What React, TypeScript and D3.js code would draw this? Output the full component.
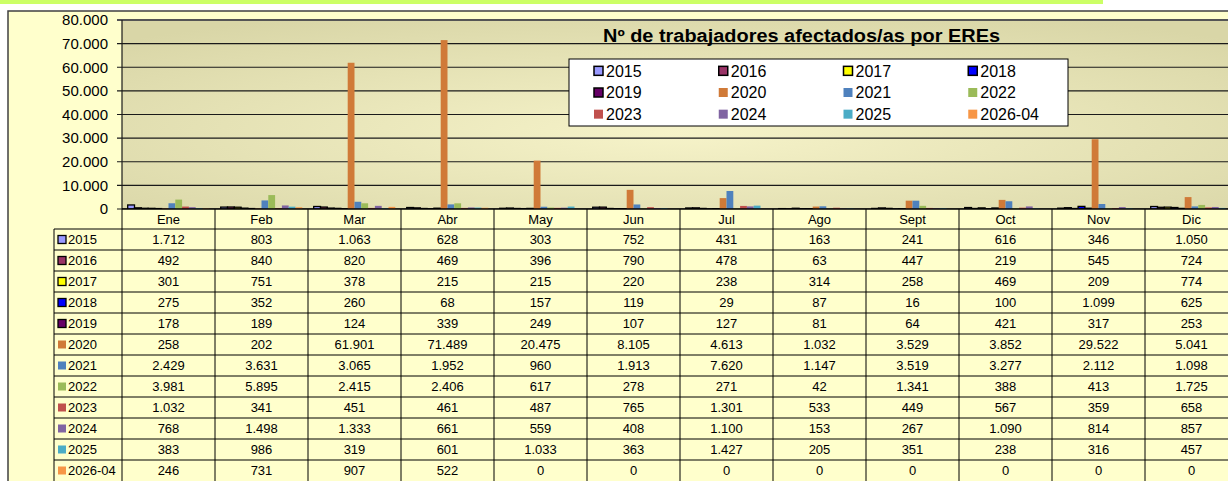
import React from "react";
import * as d3 from "d3";

const months = ["Ene", "Feb", "Mar", "Abr", "May", "Jun", "Jul", "Ago", "Sept", "Oct", "Nov", "Dic"];
const years = ["2015", "2016", "2017", "2018", "2019", "2020", "2021", "2022", "2023", "2024", "2025", "2026-04"];

const v2015 = [1712, 803, 1063, 628, 303, 752, 431, 163, 241, 616, 346, 1050];
const v2016 = [492, 840, 820, 469, 396, 790, 478, 63, 447, 219, 545, 724];
const v2017 = [301, 751, 378, 215, 215, 220, 238, 314, 258, 469, 209, 774];
const v2018 = [275, 352, 260, 68, 157, 119, 29, 87, 16, 100, 1099, 625];
const v2019 = [178, 189, 124, 339, 249, 107, 127, 81, 64, 421, 317, 253];
const v2020 = [258, 202, 61901, 71489, 20475, 8105, 4613, 1032, 3529, 3852, 29522, 5041];
const v2021 = [2429, 3631, 3065, 1952, 960, 1913, 7620, 1147, 3519, 3277, 2112, 1098];
const v2022 = [3981, 5895, 2415, 2406, 617, 278, 271, 42, 1341, 388, 413, 1725];
const v2023 = [1032, 341, 451, 461, 487, 765, 1301, 533, 449, 567, 359, 658];
const v2024 = [768, 1498, 1333, 661, 559, 408, 1100, 153, 267, 1090, 814, 857];
const v2025 = [383, 986, 319, 601, 1033, 363, 1427, 205, 351, 238, 316, 457];
const v2026 = [246, 731, 907, 522, 0, 0, 0, 0, 0, 0, 0, 0];

const values = [v2015, v2016, v2017, v2018, v2019, v2020, v2021, v2022, v2023, v2024, v2025, v2026];
const colors = [
  "#9999FF", "#993366", "#FFFF00", "#0000FF", "#660066", "#D07A38",
  "#4F81BD", "#9BBB59", "#C0504D", "#8064A2", "#4BACC6", "#F79646",
];
// first five series are drawn with a black outline
const outlined = [true, true, true, true, true, false, false, false, false, false, false, false];

const yTicks = [0, 10000, 20000, 30000, 40000, 50000, 60000, 70000, 80000];

const esLocale = d3.formatLocale({ decimal: ",", thousands: ".", grouping: [3], currency: ["", "€"] });
const fmt = esLocale.format(",d");

const W = 1228;
const H = 481;
const plotLeft = 122;
const plotTop = 20;
const plotBottom = 209;
const colW = 93;
const rowH = 21;
const headerBottom = 229;
const labelLeft = 54;
const font = "Arial, 'Liberation Sans', sans-serif";

export default function App() {
  const x0 = d3.scaleBand<string>().domain(months).range([plotLeft, plotLeft + colW * months.length]);
  const x1 = d3.scaleBand<string>().domain(years).range([0, x0.bandwidth()]).paddingOuter(0.84);
  const y = d3.scaleLinear().domain([0, 80000]).range([plotBottom, plotTop]);
  const right = plotLeft + colW * months.length;

  const legendX = d3.scaleBand<number>().domain([0, 1, 2, 3]).range([594, 1093]);
  const legendY = d3.scaleBand<number>().domain([0, 1, 2]).range([60, 125]);

  return (
    <div style={{ position: "fixed", left: 0, top: 0 }}>
      <svg width={W} height={H} style={{ display: "block", fontFamily: font }}>
        <defs>
          <radialGradient id="plotBg" cx="0.5" cy="0.6" r="0.7">
            <stop offset="0%" stopColor="#F6F3C9" />
            <stop offset="100%" stopColor="#D9D6A7" />
          </radialGradient>
        </defs>
        <rect x={0} y={0} width={W} height={H} fill="#FFFFFF" />
        <rect x={0} y={0} width={1103} height={4} fill="#CCFF66" />
        <rect x={8} y={11} width={W} height={H} fill="#FFFFCC" stroke="#404040" strokeWidth={1.5} />

        {/* plot area */}
        <rect x={plotLeft} y={plotTop} width={right - plotLeft} height={plotBottom - plotTop} fill="url(#plotBg)" />
        {yTicks.map((t) => (
          <g key={t}>
            <line x1={plotLeft - 5} x2={right} y1={y(t)} y2={y(t)} stroke={t === 80000 ? "#555" : "#1a1a1a"} strokeWidth={t === 80000 ? 2 : 1.2} />
            <text x={108} y={y(t)} dy="0.35em" textAnchor="end" fontSize={15} fill="#000">
              {fmt(t)}
            </text>
          </g>
        ))}
        <line x1={plotLeft} x2={plotLeft} y1={plotTop} y2={plotBottom} stroke="#1a1a1a" strokeWidth={1.2} />

        {/* bars */}
        {values.map((vals, si) =>
          vals.map((v, mi) => {
            const yy = y(v);
            const h = plotBottom - yy;
            return (
              <rect
                key={`${si}-${mi}`}
                x={(x0(months[mi]) ?? 0) + (x1(years[si]) ?? 0)}
                y={yy}
                width={x1.bandwidth()}
                height={h}
                fill={colors[si]}
                stroke={outlined[si] && v > 0 ? "#000" : "none"}
                strokeWidth={1.3}
              />
            );
          })
        )}

        {/* title */}
        <text x={603} y={42} fontSize={18} fontWeight="bold" fill="#000" textLength={397} lengthAdjust="spacingAndGlyphs">
          Nº de trabajadores afectados/as por EREs
        </text>

        {/* legend */}
        <rect x={569} y={59} width={499} height={67} fill="#FFFFFF" stroke="#000" strokeWidth={1} />
        {years.map((yr, i) => {
          const lx = legendX(i % 4) ?? 0;
          const ly = (legendY(Math.floor(i / 4)) ?? 0) + legendY.bandwidth() / 2;
          return (
            <g key={yr}>
              <rect
                x={lx}
                y={ly - 4.5}
                width={9}
                height={9}
                fill={colors[i]}
                stroke={outlined[i] ? "#000" : "none"}
                strokeWidth={1.5}
              />
              <text x={lx + 12} y={ly} dy="0.36em" fontSize={16} fill="#000">
                {yr}
              </text>
            </g>
          );
        })}

        {/* data table */}
        <rect x={plotLeft} y={plotBottom} width={right - plotLeft} height={headerBottom - plotBottom} fill="#FFFFCC" />
        <rect x={labelLeft} y={headerBottom} width={right - labelLeft} height={rowH * years.length} fill="#FFFFCC" />
        {months.map((m) => (
          <text key={m} x={(x0(m) ?? 0) + colW / 2} y={(plotBottom + headerBottom) / 2} dy="0.36em" textAnchor="middle" fontSize={13}>
            {m}
          </text>
        ))}
        {years.map((yr, si) => {
          const ry = headerBottom + si * rowH;
          return (
            <g key={yr}>
              <rect x={58} y={ry + rowH / 2 - 4} width={8} height={8} fill={colors[si]} stroke={outlined[si] ? "#000" : "none"} strokeWidth={1.3} />
              <text x={68} y={ry + rowH / 2} dy="0.36em" fontSize={13}>
                {yr}
              </text>
              {values[si].map((v, mi) => (
                <text key={mi} x={(x0(months[mi]) ?? 0) + colW / 2} y={ry + rowH / 2} dy="0.36em" textAnchor="middle" fontSize={13}>
                  {fmt(v)}
                </text>
              ))}
            </g>
          );
        })}
        {/* table grid */}
        <line x1={plotLeft} x2={right} y1={plotBottom} y2={plotBottom} stroke="#000" strokeWidth={1.3} />
        {years.map((yr, si) => (
          <line key={yr} x1={labelLeft} x2={right} y1={headerBottom + si * rowH} y2={headerBottom + si * rowH} stroke="#000" strokeWidth={1} />
        ))}
        <line x1={labelLeft} x2={labelLeft} y1={headerBottom} y2={H} stroke="#000" strokeWidth={1} />
        {months.map((m) => (
          <line key={m} x1={x0(m) ?? 0} x2={x0(m) ?? 0} y1={plotBottom} y2={H} stroke="#000" strokeWidth={1} />
        ))}
        <line x1={right} x2={right} y1={plotBottom} y2={H} stroke="#000" strokeWidth={1} />
      </svg>
    </div>
  );
}
